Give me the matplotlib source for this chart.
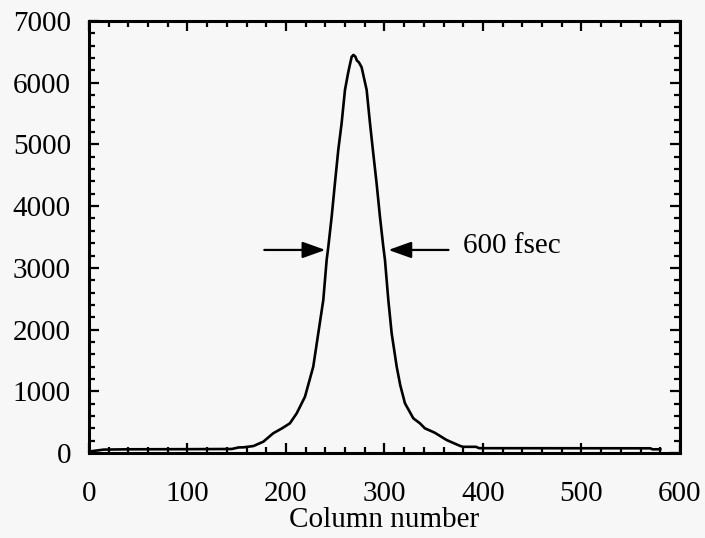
import matplotlib
matplotlib.use('Agg')
import matplotlib.pyplot as plt
from matplotlib.ticker import MultipleLocator

# column number vs. counts
col = [3, 15, 40, 100, 145, 152, 157, 167, 177, 187, 196, 204, 210.9, 219.3,
       227.7, 232.8, 237.9, 241.3, 243, 246.4, 249.7, 253.1, 256.5, 259.9,
       263, 265, 266.7, 268.5, 270.5, 272, 274, 276.8, 281.9, 285.3, 288.6,
       292, 295.4, 298.8, 300.5, 303.9, 307.3, 312.4, 316, 320.8, 329.3, 336,
       341, 351, 363, 377, 380, 393, 396, 570, 572, 580]
counts = [30, 55, 60, 62, 65, 90, 92, 113, 183, 319, 400, 481, 643, 912,
          1399, 1940, 2480, 3128, 3344, 3830, 4371, 4911, 5343, 5883,
          6150, 6300, 6420, 6450, 6420, 6360, 6330, 6250, 5883, 5343, 4857,
          4371, 3830, 3344, 3128, 2480, 1940, 1399, 1100, 805, 562, 481,
          400, 329, 211, 113, 100, 100, 78, 76, 60, 60]

# FWHM markers
fwhm_level = 3290
left_arrow = (178, 240)
right_arrow = (365, 304)
fwhm_label = '600 fsec'

plt.rcParams['font.family'] = ['Liberation Serif', 'DejaVu Serif']

fig = plt.figure(figsize=(7.05, 5.38), dpi=100, facecolor='#f7f7f7')
ax = fig.add_axes([0.1262, 0.158, 0.8383, 0.803])
ax.set_facecolor('#f7f7f7')

ax.plot(col, counts, color='black', lw=1.9)

for tail, tip in (left_arrow, right_arrow):
    ax.annotate('', xy=(tip, fwhm_level), xytext=(tail, fwhm_level),
                arrowprops=dict(arrowstyle='-|>,head_length=0.7,head_width=0.25',
                                mutation_scale=20, color='black', lw=1.6,
                                shrinkA=0, shrinkB=0))
ax.text(380, fwhm_level + 60, fwhm_label, fontsize=21, va='center', ha='left')

ax.set_xlim(0, 600)
ax.set_ylim(0, 7000)
ax.xaxis.set_major_locator(MultipleLocator(100))
ax.xaxis.set_minor_locator(MultipleLocator(20))
ax.yaxis.set_major_locator(MultipleLocator(1000))
ax.yaxis.set_minor_locator(MultipleLocator(200))
ax.tick_params(which='both', direction='in', top=True, right=True, width=1.6)
ax.tick_params(which='major', length=7)
ax.tick_params(which='minor', length=4)
ax.tick_params(axis='x', which='major', pad=20, labelsize=21)
ax.tick_params(axis='y', which='major', pad=13, labelsize=21)
for s in ax.spines.values():
    s.set_linewidth(2.2)

ax.set_xlabel('Column number', fontsize=21, labelpad=0)

fig.savefig('out.png', dpi=100, facecolor=fig.get_facecolor())
